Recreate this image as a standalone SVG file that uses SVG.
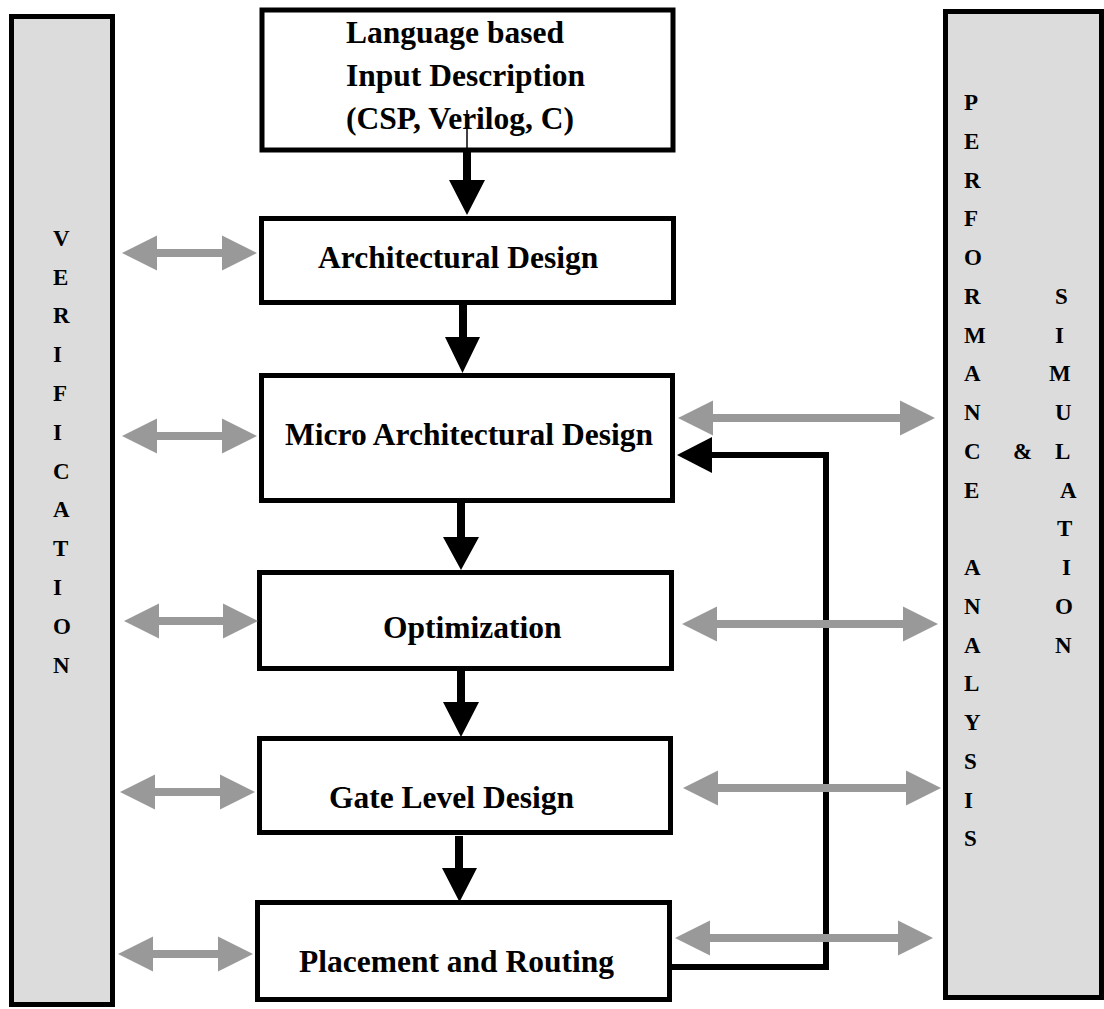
<svg xmlns="http://www.w3.org/2000/svg" width="1104" height="1009" viewBox="0 0 1104 1009">
<style>
.box{fill:#fff;stroke:#000;stroke-width:5}
.side{fill:#dcdcdc;stroke:#000;stroke-width:5}
.lbl{font-family:"Liberation Serif","Times New Roman",serif;font-weight:bold;font-size:31.5px;fill:#000}
.sl{font-family:"Liberation Serif","Times New Roman",serif;font-weight:bold;font-size:23px;fill:#000}
.garr{fill:#999999;stroke:none}
.barr{fill:#000;stroke:none}
.fb{fill:none;stroke:#000;stroke-width:6}
</style>
<rect width="1104" height="1009" fill="#fff"/>
<g id="verification">
<rect class="side" x="11.5" y="16.5" width="101" height="988"/>
<text class="sl"><tspan x="53" y="246">V</tspan><tspan x="53" y="285">E</tspan><tspan x="53" y="323">R</tspan><tspan x="53" y="362">I</tspan><tspan x="53" y="401">F</tspan><tspan x="53" y="440">I</tspan><tspan x="53" y="479">C</tspan><tspan x="53" y="517">A</tspan><tspan x="53" y="556">T</tspan><tspan x="53" y="595">I</tspan><tspan x="53" y="634">O</tspan><tspan x="53" y="673">N</tspan></text>
</g>
<g id="perf-sim">
<rect class="side" x="945.5" y="11.5" width="156" height="986"/>
<text class="sl"><tspan x="964" y="110">P</tspan><tspan x="964" y="148.75">E</tspan><tspan x="964" y="187.5">R</tspan><tspan x="964" y="226.25">F</tspan><tspan x="964" y="265">O</tspan><tspan x="964" y="303.75">R</tspan><tspan x="964" y="342.5">M</tspan><tspan x="964" y="381.25">A</tspan><tspan x="964" y="420">N</tspan><tspan x="964" y="458.75">C</tspan><tspan x="964" y="497.5">E</tspan><tspan x="964" y="575">A</tspan><tspan x="964" y="613.75">N</tspan><tspan x="964" y="652.5">A</tspan><tspan x="964" y="691.25">L</tspan><tspan x="964" y="730">Y</tspan><tspan x="964" y="768.75">S</tspan><tspan x="964" y="807.5">I</tspan><tspan x="964" y="846.25">S</tspan></text>
<text class="sl" x="1013" y="458.75">&amp;</text>
<text class="sl"><tspan x="1055" y="303.75">S</tspan><tspan x="1055" y="342.5">I</tspan><tspan x="1049" y="381.25">M</tspan><tspan x="1055" y="420">U</tspan><tspan x="1055" y="458.75">L</tspan><tspan x="1060" y="497.5">A</tspan><tspan x="1057" y="536.25">T</tspan><tspan x="1062" y="575">I</tspan><tspan x="1055" y="613.75">O</tspan><tspan x="1055" y="652.5">N</tspan></text>
</g>
<g id="input">
<rect class="box" x="262" y="10" width="411" height="140"/>
<text class="lbl" x="346" y="43">Language based</text>
<text class="lbl" x="346" y="86">Input Description</text>
<text class="lbl" x="346" y="129">(CSP, Verilog, C)</text>
</g>
<g id="arch">
<rect class="box" x="261.5" y="218.5" width="412" height="84"/>
<text class="lbl" x="318" y="268">Architectural Design</text>
</g>
<g id="micro">
<rect class="box" x="261.5" y="375.5" width="411" height="125"/>
<text class="lbl" x="285" y="445">Micro Architectural Design</text>
</g>
<g id="optim">
<rect class="box" x="259.5" y="572.5" width="412" height="96"/>
<text class="lbl" x="383" y="638">Optimization</text>
</g>
<g id="gate">
<rect class="box" x="259.5" y="738.5" width="411" height="94"/>
<text class="lbl" x="329" y="808">Gate Level Design</text>
</g>
<g id="place">
<rect class="box" x="257.5" y="902.5" width="412" height="97"/>
<text class="lbl" x="299" y="972">Placement and Routing</text>
</g>
<g id="connectors">
<line x1="467" y1="110" x2="467" y2="152" stroke="#000" stroke-width="1.5"/>
<polygon class="barr" points="463,152 471,152 471,180 485,180 467,215 449,180 463,180"/>
<polygon class="barr" points="459,305 467,305 467,337 480,337 462.5,373 445,337 459,337"/>
<polygon class="barr" points="457,503 465,503 465,537 479,537 461,570 443,537 457,537"/>
<polygon class="barr" points="457,671 465,671 465,702 479,702 461,737 443,702 457,702"/>
<polygon class="barr" points="455,836 463,836 463,868 477,868 459.5,902 442,868 455,868"/>
<polyline class="fb" points="670,967 826,967 826,455 710,455"/>
<polygon class="barr" points="677,455 712,437 712,473"/>
<polygon class="garr" points="122,253 157,235.5 157,249 222,249 222,235.5 257,253 222,270.5 222,257 157,257 157,270.5"/>
<polygon class="garr" points="122,436 157,418.5 157,432 222,432 222,418.5 257,436 222,453.5 222,440 157,440 157,453.5"/>
<polygon class="garr" points="124,621 159,603.5 159,617 223,617 223,603.5 258,621 223,638.5 223,625 159,625 159,638.5"/>
<polygon class="garr" points="120,792 155,774.5 155,788 220,788 220,774.5 255,792 220,809.5 220,796 155,796 155,809.5"/>
<polygon class="garr" points="118,954 153,936.5 153,950 218,950 218,936.5 253,954 218,971.5 218,958 153,958 153,971.5"/>
<polygon class="garr" points="678,418 713,400.5 713,414 900,414 900,400.5 935,418 900,435.5 900,422 713,422 713,435.5"/>
<polygon class="garr" points="682,624 717,606.5 717,620 903,620 903,606.5 938,624 903,641.5 903,628 717,628 717,641.5"/>
<polygon class="garr" points="683,788 718,770.5 718,784 906,784 906,770.5 941,788 906,805.5 906,792 718,792 718,805.5"/>
<polygon class="garr" points="675,938 710,920.5 710,934 898,934 898,920.5 933,938 898,955.5 898,942 710,942 710,955.5"/>
</g>
</svg>
